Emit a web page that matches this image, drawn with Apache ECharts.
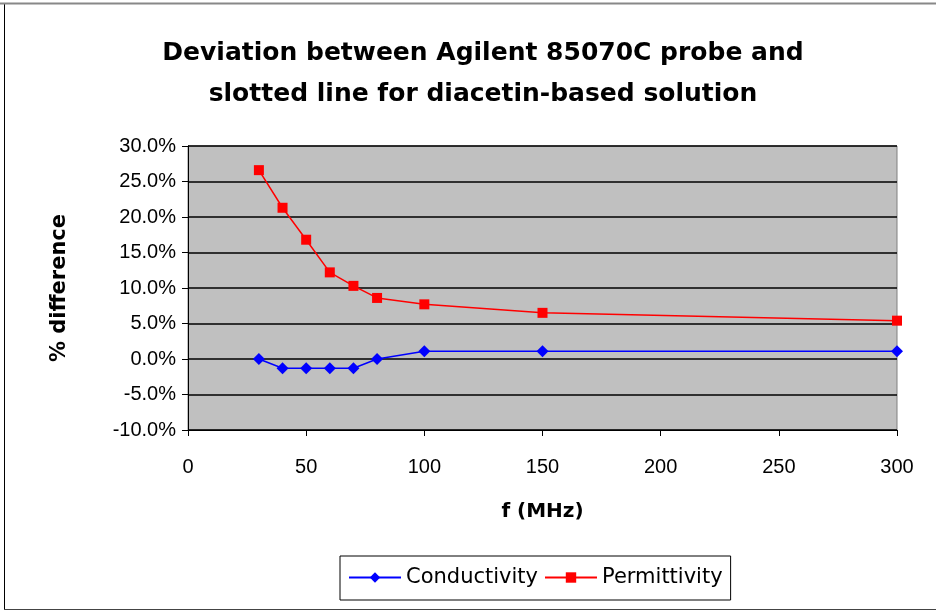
<!DOCTYPE html>
<html>
<head>
<meta charset="utf-8">
<script src="https://cdn.jsdelivr.net/npm/echarts@6/dist/echarts.min.js"></script>
<style>
  html, body { margin: 0; padding: 0; background: #fff; }
  #chart { width: 936px; height: 616px; }
</style>
</head>
<body>
<div id="chart"></div>
<script>
// frequency (MHz)
var freq = [30, 40, 50, 60, 70, 80, 100, 150, 300];
// % difference
var conductivity = [0.0, -1.3, -1.3, -1.3, -1.3, 0.0, 1.1, 1.1, 1.1];
var permittivity = [26.6, 21.3, 16.8, 12.2, 10.3, 8.6, 7.7, 6.5, 5.4];

var titleLines = ['Deviation between Agilent 85070C probe and', 'slotted line for diacetin-based solution'];

function pairs(xs, ys) {
  return xs.map(function (x, i) { return [x, ys[i]]; });
}

var font = 'Liberation Sans, Arial, sans-serif';
var wide = 'DejaVu Sans, sans-serif';
var myChart = echarts.init(document.getElementById('chart'), null, { renderer: 'canvas' });

var option = {
  backgroundColor: '#fff',
  animation: false,
  title: {
    text: titleLines.join('\n'),
    left: 478,
    textAlign: 'center',
    top: 28,
    textStyle: { fontFamily: wide, fontSize: 25, fontWeight: 'bold', color: '#000', lineHeight: 41 }
  },
  grid: { left: 188, right: 39, top: 146, bottom: 186, show: true, backgroundColor: '#c0c0c0', borderColor: '#808080', borderWidth: 1 },
  legend: {
    left: 340,
    top: 556,
    itemWidth: 52,
    itemHeight: 13,
    itemGap: 6,
    padding: [11, 8, 12, 8],
    borderColor: '#000',
    borderWidth: 1,
    textStyle: { fontFamily: wide, fontSize: 21, color: '#000' },
    data: ['Conductivity', 'Permittivity']
  },
  xAxis: {
    type: 'value',
    min: 0, max: 300, interval: 50,
    name: 'f (MHz)',
    nameLocation: 'middle',
    nameGap: 72,
    nameTextStyle: { fontFamily: wide, fontSize: 20, fontWeight: 'bold', color: '#000' },
    axisLine: { show: true, onZero: false, lineStyle: { color: '#000', width: 1 } },
    axisTick: { show: true, length: 6, lineStyle: { color: '#000' } },
    axisLabel: { margin: 27, fontFamily: font, fontSize: 20, color: '#000' },
    splitLine: { show: false }
  },
  yAxis: {
    type: 'value',
    min: -10, max: 30, interval: 5,
    name: '% difference',
    nameLocation: 'middle',
    nameGap: 118,
    nameRotate: 90,
    nameTextStyle: { fontFamily: wide, fontSize: 21, fontWeight: 'bold', color: '#000' },
    axisLine: { show: true, lineStyle: { color: '#000', width: 1 } },
    axisTick: { show: true, length: 6, lineStyle: { color: '#000' } },
    axisLabel: {
      margin: 12, fontFamily: font, fontSize: 20, color: '#000',
      formatter: function (v) { return v.toFixed(1) + '%'; }
    },
    splitLine: { show: true, lineStyle: { color: '#000', width: 1.5 } }
  },
  series: [
    {
      name: 'Conductivity',
      type: 'line',
      data: pairs(freq, conductivity),
      symbol: 'diamond',
      symbolSize: 12,
      itemStyle: { color: '#0000ff' },
      lineStyle: { color: '#0000ff', width: 1.5 }
    },
    {
      name: 'Permittivity',
      type: 'line',
      data: pairs(freq, permittivity),
      symbol: 'rect',
      symbolSize: 10,
      itemStyle: { color: '#ff0000' },
      lineStyle: { color: '#ff0000', width: 1.5 }
    }
  ],
  graphic: [
    { type: 'line', shape: { x1: 4.5, y1: 3, x2: 4.5, y2: 609 }, style: { stroke: '#000', lineWidth: 1 } },
    { type: 'line', shape: { x1: 4, y1: 609.5, x2: 936, y2: 609.5 }, style: { stroke: '#444', lineWidth: 1 } },
    { type: 'line', shape: { x1: 0, y1: 3.5, x2: 936, y2: 3.5 }, style: { stroke: '#888', lineWidth: 2 } }
  ]
};

myChart.setOption(option);
</script>
</body>
</html>
